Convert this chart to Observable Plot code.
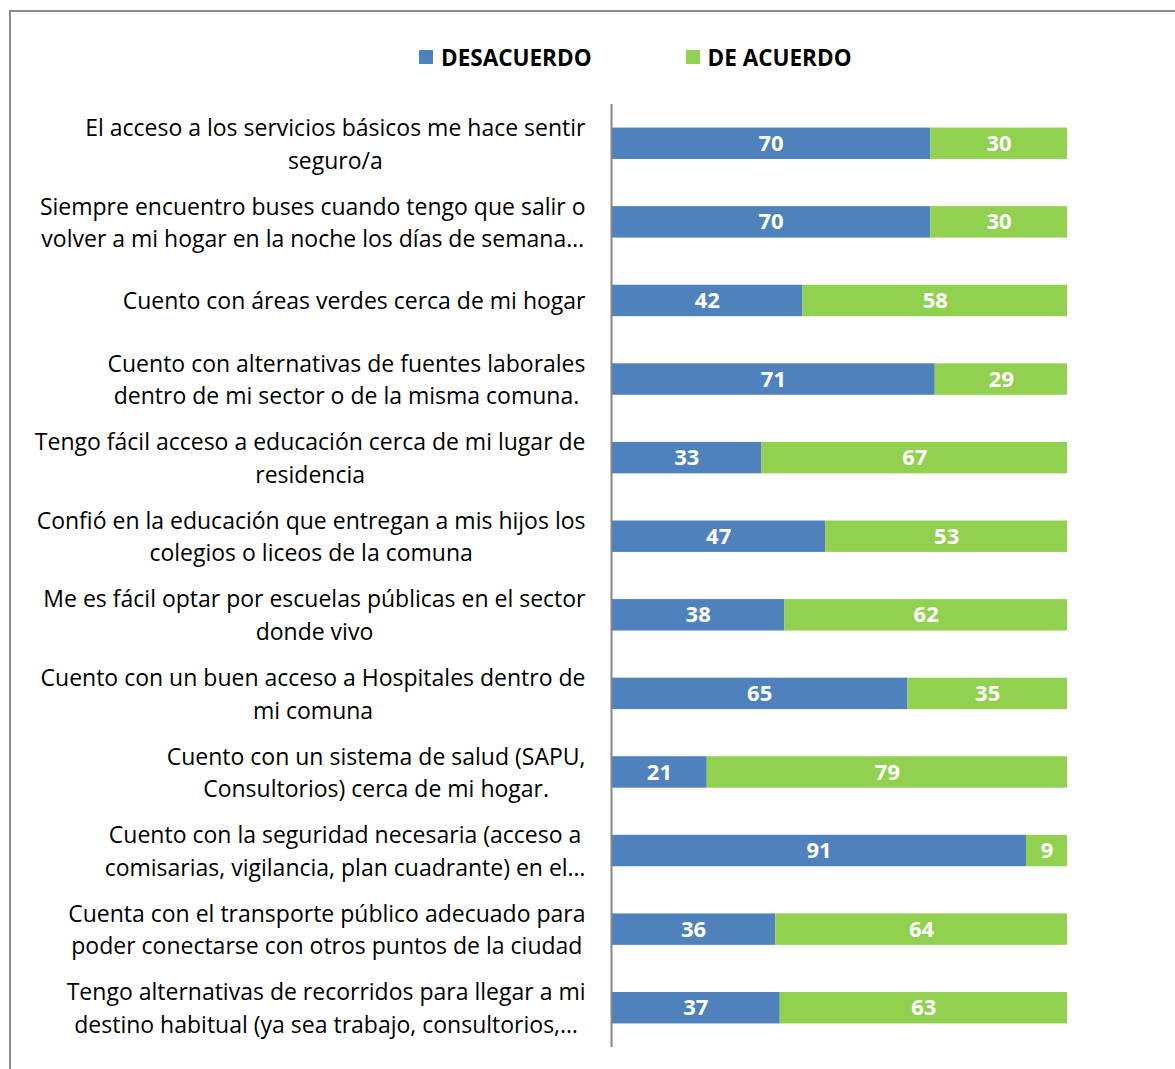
<!DOCTYPE html>
<html>
<head>
<meta charset="utf-8">
<script src="https://cdn.jsdelivr.net/npm/d3@7"></script>
<script src="https://cdn.jsdelivr.net/npm/@observablehq/plot@0.6"></script>
<style>
  html, body { margin: 0; padding: 0; background: #fff; }
  #page { position: relative; width: 1175px; height: 1069px; overflow: hidden; font-family: "Open Sans", Lato, sans-serif; }
  #frame { position: absolute; left: 9px; top: 10px; width: 1200px; height: 1100px; border-left: 2px solid #8c8c8c; border-top: 2px solid #8c8c8c; box-sizing: border-box; }
  #legend { position: relative; height: 90px; display: flex; align-items: center; padding-left: 419px; padding-top: 24px; box-sizing: border-box; font-weight: bold; font-size: 22.5px; color: #000; }
  .item { display: flex; align-items: center; }
  .sw { width: 14px; height: 14px; margin-right: 8px; }
  #chart { position: relative; }
  #chart svg { display: block; }
</style>
</head>
<body>
<div id="page">
  <div id="frame"></div>
  <div id="legend"></div>
  <div id="chart"></div>
</div>
<script>
const categories = [
  "El acceso a los servicios básicos me hace sentir\nseguro/a",
  "Siempre encuentro buses cuando tengo que salir o\nvolver a mi hogar en la noche los días de semana…",
  "Cuento con áreas verdes cerca de mi hogar",
  "Cuento con alternativas de fuentes laborales\ndentro de mi sector o de la misma comuna.",
  "Tengo fácil acceso a educación cerca de mi lugar de\nresidencia",
  "Confió en la educación que entregan a mis hijos los\ncolegios o liceos de la comuna",
  "Me es fácil optar por escuelas públicas en el sector\ndonde vivo",
  "Cuento con un buen acceso a Hospitales dentro de\nmi comuna",
  "Cuento con un sistema de salud (SAPU,\nConsultorios) cerca de mi hogar.",
  "Cuento con la seguridad necesaria (acceso a\ncomisarias, vigilancia, plan cuadrante) en el…",
  "Cuenta con el transporte público adecuado para\npoder conectarse con otros puntos de la ciudad",
  "Tengo alternativas de recorridos para llegar a mi\ndestino habitual (ya sea trabajo, consultorios,…"
];
const desacuerdo = [70, 70, 42, 71, 33, 47, 38, 65, 21, 91, 36, 37];
const deAcuerdo  = [30, 30, 58, 29, 67, 53, 62, 35, 79, 9, 64, 63];
const seriesNames = ["DESACUERDO", "DE ACUERDO"];
const seriesColors = ["#4F81BD", "#92D050"];

const data = [];
categories.forEach((c, i) => data.push({label: c, series: seriesNames[0], value: desacuerdo[i]}));
categories.forEach((c, i) => data.push({label: c, series: seriesNames[1], value: deAcuerdo[i]}));

// Legend
const legend = document.getElementById("legend");
seriesNames.forEach((s, i) => {
  const it = document.createElement("div");
  it.className = "item";
  if (i > 0) it.style.marginLeft = "94px";
  it.innerHTML = `<div class="sw" style="background:${seriesColors[i]}"></div><span>${s}</span>`;
  legend.appendChild(it);
});

const chart = Plot.plot({
  width: 1175,
  height: 979,
  marginTop: 14,
  marginBottom: 22,
  marginLeft: 611,
  marginRight: 108,
  style: {fontFamily: "'Open Sans', Lato, sans-serif", background: "transparent"},
  x: {domain: [0, 100], axis: null},
  y: {domain: categories, paddingInner: 0.6, paddingOuter: 0.3, round: false, axis: null},
  color: {domain: seriesNames, range: seriesColors},
  marks: [
    Plot.barX(data, Plot.stackX({x: "value", y: "label", fill: "series", order: seriesNames})),
    Plot.text(data, Plot.stackX({x: "value", y: "label", z: "series", order: seriesNames, text: d => String(d.value), fill: "white", fontWeight: "bold", fontSize: 22})),
    Plot.ruleX([0], {stroke: "#868686", strokeWidth: 2}),
    Plot.text(categories, {x: 0, y: d => d, text: d => d, textAnchor: "end", dx: -26, dy: -2, fontSize: 23, lineHeight: 1.42, fill: "#000", className: "cat-labels"})
  ]
});
document.getElementById("chart").appendChild(chart);

// Center lines of each multi-line label among themselves (block right-aligned), as in the original
chart.querySelectorAll(".cat-labels text").forEach(t => {
  const spans = t.querySelectorAll("tspan");
  if (spans.length < 2) return;
  let maxW = 0;
  spans.forEach(s => { maxW = Math.max(maxW, s.getComputedTextLength()); });
  t.setAttribute("text-anchor", "middle");
  spans.forEach(s => s.setAttribute("x", -maxW / 2));
});
</script>
</body>
</html>
